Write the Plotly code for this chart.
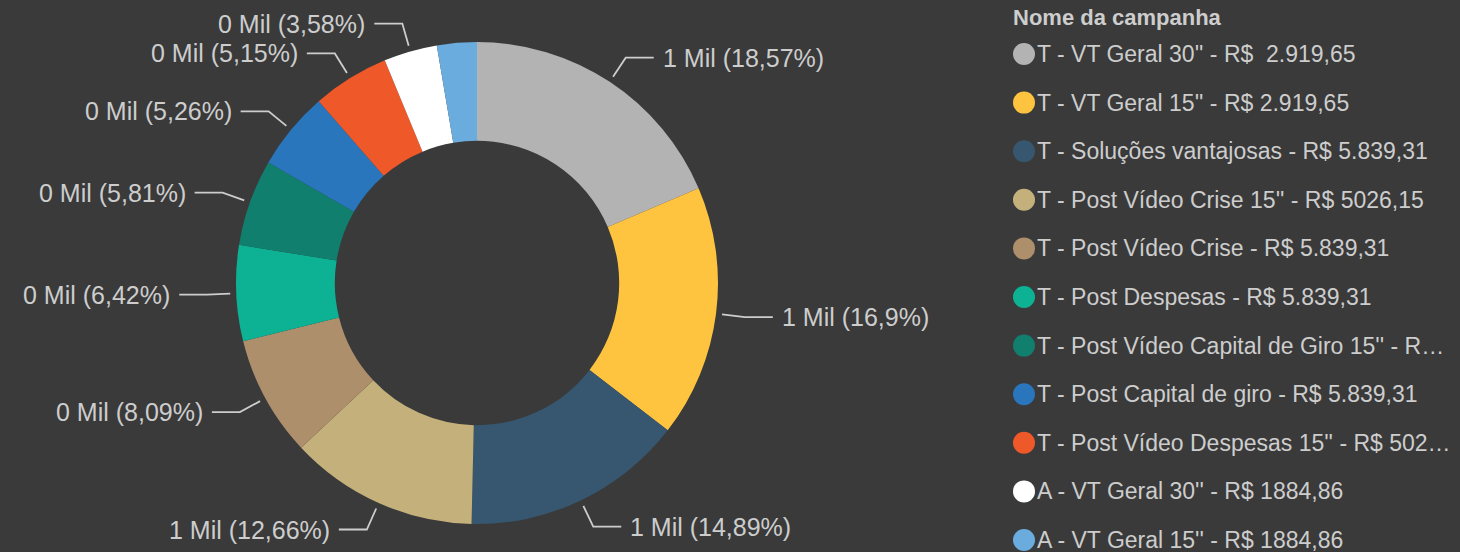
"""
Donut chart of campaign spend share, Power BI dark style.
"""

import numpy as np
import plotly.graph_objects as go

# Campaign names as shown in the legend (long ones are cut like in the source)
campanhas = [
    "T - VT Geral 30'' - R$  2.919,65",
    "T - VT Geral 15'' - R$ 2.919,65",
    "T - Soluções vantajosas - R$ 5.839,31",
    "T - Post Vídeo Crise 15'' - R$ 5026,15",
    "T - Post Vídeo Crise - R$ 5.839,31",
    "T - Post Despesas - R$ 5.839,31",
    "T - Post Vídeo Capital de Giro 15'' - R…",
    "T - Post Capital de giro - R$ 5.839,31",
    "T - Post Vídeo Despesas 15'' - R$ 502…",
    "A - VT Geral 30'' - R$ 1884,86",
    "A - VT Geral 15'' - R$ 1884,86",
]

# Share of each slice (percent)
valores = [18.57, 16.9, 14.89, 12.66, 8.09, 6.42, 5.81, 5.26, 5.15, 3.58, 2.67]

# Data labels (the smallest slice has none)
rotulos = [
    "1 Mil (18,57%)", "1 Mil (16,9%)", "1 Mil (14,89%)", "1 Mil (12,66%)",
    "0 Mil (8,09%)", "0 Mil (6,42%)", "0 Mil (5,81%)", "0 Mil (5,26%)",
    "0 Mil (5,15%)", "0 Mil (3,58%)", "",
]

cores = [
    "#B3B3B3", "#FEC43F", "#36576F", "#C4B07A", "#AD8F6B", "#0DB194",
    "#117F6E", "#2976BD", "#EF5829", "#FFFFFF", "#6AACDE",
]

W, H = 1460, 552
CX, CY, R = 477, 283, 241
BG = "#3a3a3a"
TXT = "#cdcdcd"
FONT = "Liberation Sans, Arial, sans-serif"

fig = go.Figure()

# Donut
fig.add_trace(go.Pie(
    values=valores,
    labels=campanhas,
    marker=dict(colors=cores, line=dict(width=0)),
    hole=0.59,
    sort=False,
    direction="clockwise",
    rotation=0,
    textinfo="none",
    hoverinfo="label+percent",
    showlegend=False,
    domain=dict(x=[(CX - R) / W, (CX + R) / W], y=[1 - (CY + R) / H, 1 - (CY - R) / H]),
))

# Leader lines and labels, placed from the slice mid angles
total = sum(valores)
inicio = np.cumsum([0] + valores[:-1])
lx, ly = [], []
annotations = []
for v, ini, txt in zip(valores, inicio, rotulos):
    if not txt:
        continue
    ang = 2 * np.pi * (ini + v / 2) / total
    ux, uy = np.sin(ang), -np.cos(ang)
    lado = 1 if ux >= 0 else -1
    x0, y0 = CX + (R + 6) * ux, CY + (R + 6) * uy
    x1, y1 = CX + (R + 29) * ux, CY + (R + 29) * uy
    x2 = x1 + lado * 28
    lx += [x0, x1, x2, None]
    ly += [y0, y1, y1, None]
    annotations.append(dict(
        x=x2 + lado * 7, y=y1, xref="x", yref="y", text=txt, showarrow=False,
        xanchor="left" if lado > 0 else "right", yanchor="middle",
        font=dict(family=FONT, size=25, color=TXT),
    ))

fig.add_trace(go.Scatter(
    x=lx, y=ly, mode="lines", line=dict(color=TXT, width=1.8),
    hoverinfo="skip", showlegend=False,
))

# Hand-drawn legend with round markers
leg_x, leg_y0, leg_dy = 1024, 54, 48.6
leg_y = [leg_y0 + i * leg_dy for i in range(len(campanhas))]
fig.add_trace(go.Scatter(
    x=[leg_x] * len(campanhas), y=leg_y, mode="markers",
    marker=dict(size=22, color=cores, line=dict(width=0)),
    hoverinfo="skip", showlegend=False,
))
for nome, y in zip(campanhas, leg_y):
    annotations.append(dict(
        x=leg_x + 11, y=y, xref="x", yref="y", text=nome, showarrow=False,
        xanchor="left", yanchor="middle",
        font=dict(family=FONT, size=23, color=TXT),
    ))
annotations.append(dict(
    x=1011, y=17, xref="x", yref="y", text="<b>Nome da campanha</b>", showarrow=False,
    xanchor="left", yanchor="middle",
    font=dict(family=FONT, size=22, color=TXT),
))

fig.update_layout(
    width=W, height=H,
    margin=dict(l=0, r=0, t=0, b=0),
    paper_bgcolor=BG, plot_bgcolor=BG,
    xaxis=dict(range=[0, W], visible=False, fixedrange=True),
    yaxis=dict(range=[H, 0], visible=False, fixedrange=True),
    annotations=annotations,
    showlegend=False,
)

fig.write_html(
    "out.html",
    config={"displayModeBar": False},
    post_script="document.body.style.margin='0';document.body.style.background='#3a3a3a';",
)
